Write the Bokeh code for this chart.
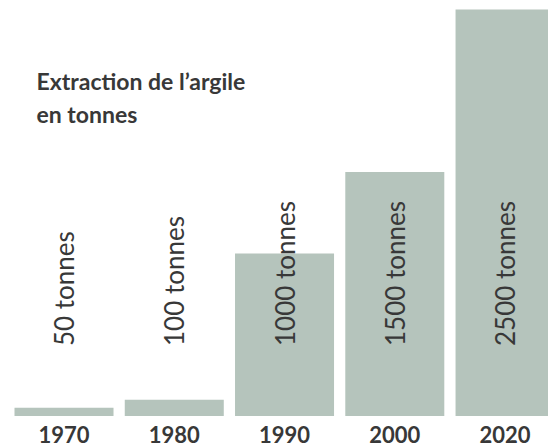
import math
from bokeh.plotting import figure
from bokeh.models import ColumnDataSource, LabelSet, Label, Range1d
from bokeh.core.properties import value
from bokeh.embed import file_html
from bokeh.resources import INLINE

years = ["1970", "1980", "1990", "2000", "2020"]
tonnes = [50, 100, 1000, 1500, 2500]
value_labels = ["50 tonnes", "100 tonnes", "1000 tonnes", "1500 tonnes", "2500 tonnes"]
title_lines = ["Extraction de l\u2019argile", "en tonnes"]

BAR = "#b5c4bc"
TXT = "#383838"
FONT = "Lato"

idx = list(range(len(years)))
src = ColumnDataSource(dict(x=idx, top=tonnes, year=years, lab=value_labels,
                            zero=[0] * len(years)))

p = figure(width=548, height=447, output_backend="svg", toolbar_location=None,
           x_range=Range1d(-0.576, 4.394), y_range=Range1d(-193.7, 2555.4),
           min_border=0)
p.axis.visible = False
p.grid.visible = False
p.outline_line_color = None
p.background_fill_color = "white"
p.border_fill_color = "white"

p.vbar(x="x", top="top", bottom=0, width=0.898, source=src,
       fill_color=BAR, line_color=None)

vals = LabelSet(x="x", y="zero", text="lab", source=src, angle=math.pi / 2,
                y_offset=70, text_align="left", text_baseline="middle",
                text_font=value(FONT), text_font_size=value("26px"),
                text_color=TXT)
p.add_layout(vals)

yrs = LabelSet(x="x", y="zero", text="year", source=src, y_offset=-26.5,
               text_align="center", text_baseline="alphabetic",
               text_font=value(FONT), text_font_size=value("22px"),
               text_font_style=value("bold"), text_color=TXT)
p.add_layout(yrs)

for i, line in enumerate(title_lines):
    p.add_layout(Label(x=36, y=367 - 33 * i, x_units="screen", y_units="screen",
                       text=line, text_font=FONT, text_font_size="23px",
                       text_font_style="bold", text_color=TXT,
                       text_baseline="alphabetic"))

open("out.html", "w").write(file_html(p, INLINE))
